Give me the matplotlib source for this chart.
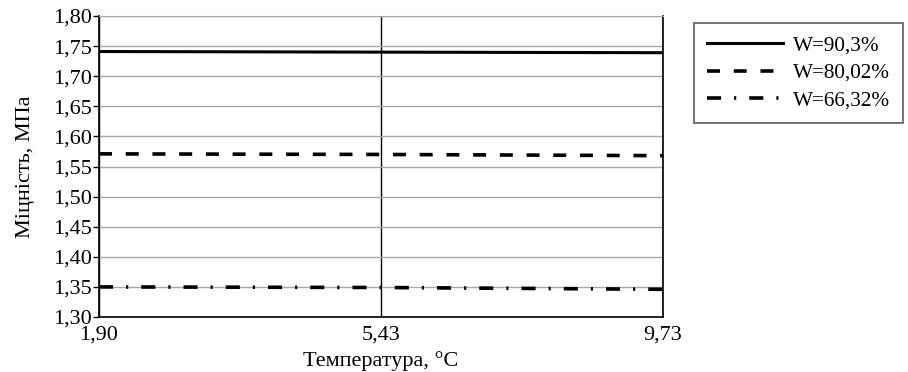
import numpy as np
import matplotlib.pyplot as plt
from matplotlib.ticker import FuncFormatter

plt.rcParams['font.family'] = ['Liberation Serif', 'DejaVu Serif']

temps = ['1,90', '5,43', '9,73']
w90 = [1.741, 1.740, 1.739]
w80 = [1.571, 1.570, 1.568]
w66 = [1.350, 1.349, 1.346]
labels = ['W=90,3%', 'W=80,02%', 'W=66,32%']

fig = plt.figure(figsize=(9.08, 3.72), dpi=100)
ax = fig.add_axes([99/908, 1 - 317/372, (663-99)/908, (317-16)/372])

x = np.arange(len(temps))
ax.plot(x, w90, color='black', lw=2.2, linestyle='-', label=labels[0])
ax.plot(x, w80, color='black', lw=2.6, linestyle=(0, (3.6, 3.8)), label=labels[1])
ax.plot(x, w66, color='black', lw=2.6, linestyle=(0, (3.9, 3.6, 0.6, 3.6)), label=labels[2])

ax.set_xlim(0, 2)
ax.set_ylim(1.30, 1.80)
ax.set_xticks(x)
ax.set_xticklabels(temps, fontsize=16)
ax.set_yticks(np.arange(1.30, 1.801, 0.05))
ax.yaxis.set_major_formatter(FuncFormatter(lambda v, p: f'{v:.2f}'.replace('.', ',')))
ax.tick_params(axis='y', labelsize=16, length=4, width=1, pad=1)
ax.tick_params(axis='x', length=0, pad=6)

ax.grid(axis='y', color='#a8a8a8', lw=1)
ax.grid(axis='x', color='black', lw=1)
ax.set_axisbelow(True)
for s in ['left', 'bottom', 'right']:
    ax.spines[s].set_color('black')
    ax.spines[s].set_linewidth(1.2)
ax.spines['top'].set_color('#a8a8a8')

ax.set_xlabel('Температура, °C', fontsize=16, labelpad=5)
ax.set_ylabel('Міцність, МПа', fontsize=16, labelpad=13)

leg = fig.legend(loc='upper left', bbox_to_anchor=(694/908, 1 - 23/372),
                 fontsize=15.3, handlelength=3.6, frameon=True, fancybox=False,
                 edgecolor='#333333', borderpad=0.6, labelspacing=0.35,
                 handletextpad=0.45, borderaxespad=0)
leg.get_frame().set_linewidth(1.2)

fig.savefig('out.png', dpi=100)
